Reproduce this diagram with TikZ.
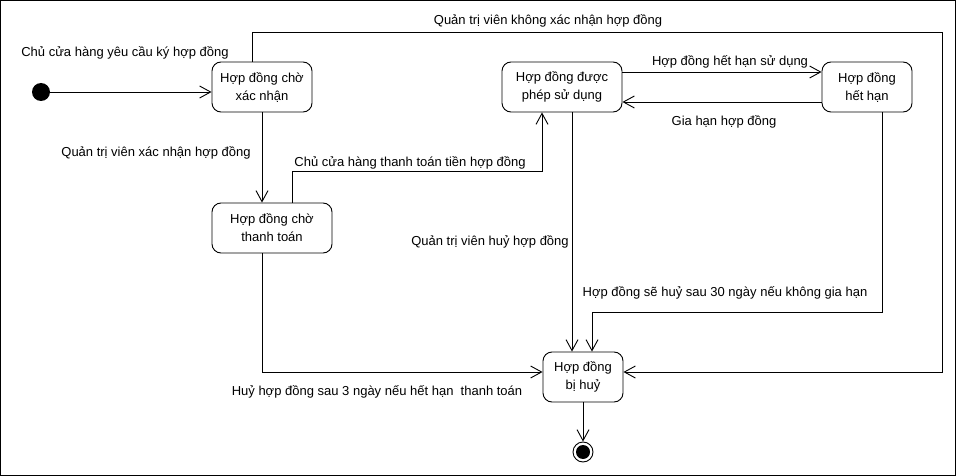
\documentclass[tikz,border=0pt]{standalone}
\usepackage{fontspec}
\setmainfont{Liberation Sans}
\usetikzlibrary{arrows.meta}
\begin{document}
\begin{tikzpicture}[x=1pt,y=-1pt,line width=0.9pt,
  state/.style={draw, rounded corners=9pt, minimum height=50pt, align=center,
    inner sep=1pt, font=\fontsize{13}{18}\selectfont},
  startstate/.style={circle, fill, minimum size=18pt, inner sep=0pt},
  endstate/.style={circle, draw, minimum size=20pt, inner sep=0pt,
    path picture={\fill (path picture bounding box.center) circle (7pt);}},
  trans/.style={-{Straight Barb[length=11pt,width=12pt]}},
  lbl/.style={font=\fontsize{13}{15}\selectfont, inner sep=0pt}]
  \useasboundingbox (0,0) rectangle (956,476);
  \draw (0.5,0.5) rectangle (955.5,475.5);
  % states
  \node[startstate] (init) at (41,92) {};
  \node[state, minimum width=100pt] (choXacNhan) at (262,87) {Hợp đồng chờ\\xác nhận};
  \node[state, minimum width=120pt] (choThanhToan) at (272,228) {Hợp đồng chờ\\thanh toán};
  \node[state, minimum width=120pt] (duocSuDung) at (562,87) {Hợp đồng được\\phép sử dụng};
  \node[state, minimum width=90pt] (hetHan) at (867,87) {Hợp đồng\\hết hạn};
  \node[state, minimum width=80pt] (biHuy) at (583,377) {Hợp đồng\\bị huỷ};
  \node[endstate] (final) at (583,452) {};
  \coordinate (topRight) at (942,32);
  % transitions
  \draw[trans] (init) -- (init -| choXacNhan.west);
  \draw[trans] (choXacNhan.south) -- (choXacNhan.south |- choThanhToan.north);
  \draw[trans] ([xshift=-10pt]choXacNhan.north) |- (topRight) |- ([yshift=5pt]biHuy.east);
  \draw[trans] ([xshift=20pt]choThanhToan.north) -- ++(0,-31) -| ([xshift=-20pt]duocSuDung.south);
  \draw[trans] ([yshift=15pt]duocSuDung.east) -- ([yshift=15pt]hetHan.west);
  \draw[trans] ([yshift=-15pt]hetHan.west) -- ([yshift=-15pt]duocSuDung.east);
  \draw[trans] ([xshift=10pt]duocSuDung.south) -- ([xshift=10pt]duocSuDung.south |- biHuy.north);
  \draw[trans] ([xshift=15pt]hetHan.south) -- ++(0,200) -| ([xshift=9pt]biHuy.north);
  \draw[trans] ([xshift=-10pt]choThanhToan.south) |- ([yshift=5pt]biHuy.west);
  \draw[trans] (biHuy) -- (final);
  % labels
  \node[lbl] (lblYeuCau) at (125,53) {Chủ cửa hàng yêu cầu ký hợp đồng};
  \node[lbl] (lblXacNhan) at (156,153) {Quản trị viên xác nhận hợp đồng};
  \node[lbl] (lblKhongXacNhan) at (548,21) {Quản trị viên không xác nhận hợp đồng};
  \node[lbl] (lblThanhToan) at (410,163) {Chủ cửa hàng thanh toán tiền hợp đồng};
  \node[lbl] (lblHetHan) at (730,62) {Hợp đồng hết hạn sử dụng};
  \node[lbl] (lblGiaHan) at (724,122) {Gia hạn hợp đồng};
  \node[lbl] (lblHuy) at (490,242) {Quản trị viên huỷ hợp đồng};
  \node[lbl] (lblHuy30) at (725,293) {Hợp đồng sẽ huỷ sau 30 ngày nếu không gia hạn};
  \node[lbl] (lblHuy3) at (377,392) {Huỷ hợp đồng sau 3 ngày nếu hết hạn\ \ thanh toán};
\end{tikzpicture}
\end{document}
